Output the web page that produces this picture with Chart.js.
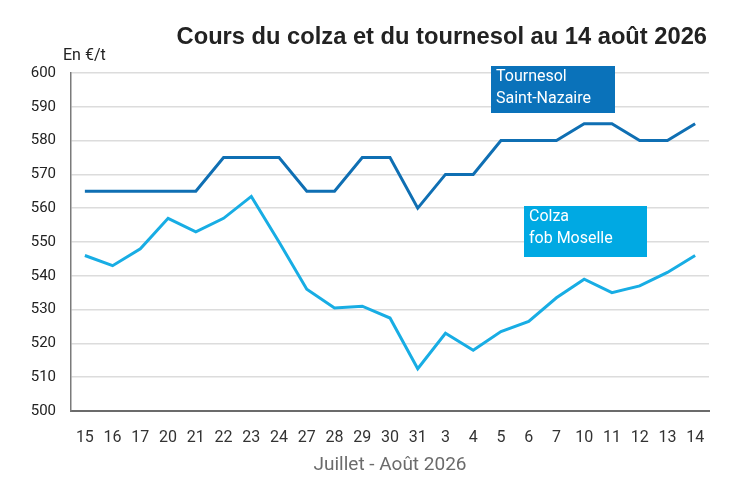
<!DOCTYPE html>
<html>
<head>
<meta charset="utf-8">
<script src="https://cdn.jsdelivr.net/npm/chart.js@4"></script>
<style>
  html, body { margin: 0; padding: 0; background: #fff; }
  #wrap { position: relative; width: 747px; height: 495px; }
</style>
</head>
<body>
<div id="wrap"><canvas id="chart" width="747" height="495"></canvas></div>
<script>
// Dates de cotation (juillet puis août)
const dates = ['15', '16', '17', '20', '21', '22', '23', '24', '27', '28', '29', '30', '31',
  '3', '4', '5', '6', '7', '10', '11', '12', '13', '14'];

// Tournesol Saint-Nazaire, en €/t
const tournesol = [565, 565, 565, 565, 565, 575, 575, 575, 565, 565, 575, 575, 560,
  570, 570, 580, 580, 580, 585, 585, 580, 580, 585];

// Colza fob Moselle, en €/t
const colza = [546, 543, 548, 557, 553, 557, 563.5, 550, 536, 530.5, 531, 527.5, 512.5,
  523, 518, 523.5, 526.5, 533.5, 539, 535, 537, 541, 546];

const yMin = 500;
const yMax = 600;
const yStep = 10;

const chartTitle = 'Cours du colza et du tournesol au 14 août 2026';
const unitLabel = 'En €/t';
const xTitle = 'Juillet - Août 2026';

// Etiquettes des séries (boîtes colorées)
const labels = [
  { lines: ['Tournesol', 'Saint-Nazaire'], color: '#0a72ba', x: 491, y: 66, w: 124, h: 47 },
  { lines: ['Colza', 'fob Moselle'], color: '#00a9e3', x: 524, y: 206, w: 123, h: 51 }
];

const annotations = {
  id: 'annotations',
  afterDraw(chart) {
    const ctx = chart.ctx;
    ctx.save();
    // titre
    ctx.fillStyle = '#222';
    ctx.font = 'bold 23.7px "Liberation Sans", Arial, sans-serif';
    ctx.textAlign = 'right';
    ctx.textBaseline = 'alphabetic';
    ctx.fillText(chartTitle, 707, 44);
    // unité
    ctx.font = '16px Roboto, sans-serif';
    ctx.textAlign = 'left';
    ctx.fillStyle = '#222';
    ctx.fillText(unitLabel, 63, 60);
    // boîtes
    labels.forEach(l => {
      ctx.fillStyle = l.color;
      ctx.fillRect(l.x, l.y, l.w, l.h);
      ctx.fillStyle = '#fff';
      ctx.font = '16px Roboto, sans-serif';
      ctx.textBaseline = 'middle';
      l.lines.forEach((t, i) => {
        ctx.fillText(t, l.x + 5, l.y + 11 + i * 22);
      });
    });
    ctx.restore();
  }
};

new Chart(document.getElementById('chart'), {
  type: 'line',
  data: {
    labels: dates,
    datasets: [
      {
        label: 'Tournesol Saint-Nazaire',
        data: tournesol,
        borderColor: '#0f6fb3',
        borderWidth: 3,
        pointRadius: 0,
        tension: 0
      },
      {
        label: 'Colza fob Moselle',
        data: colza,
        borderColor: '#18ade4',
        borderWidth: 3,
        pointRadius: 0,
        tension: 0
      }
    ]
  },
  options: {
    responsive: false,
    animation: false,
    layout: { padding: { top: 73, right: 38, left: 0, bottom: 0 } },
    plugins: {
      legend: { display: false },
      tooltip: { enabled: false }
    },
    scales: {
      x: {
        offset: true,
        grid: { display: false },
        border: { display: true, color: '#6b6b6b', width: 2 },
        ticks: {
          autoSkip: false,
          maxRotation: 0,
          padding: 9,
          color: '#333',
          font: { family: 'Roboto, sans-serif', size: 16 }
        },
        title: {
          display: true,
          text: xTitle,
          color: '#6b6b6b',
          font: { family: 'Roboto, sans-serif', size: 19 },
          padding: { top: 0, bottom: 18 }
        },
        afterFit(scale) { scale.height = 84; }
      },
      y: {
        min: yMin,
        max: yMax,
        ticks: {
          stepSize: yStep,
          padding: 15,
          color: '#222',
          font: { family: 'Roboto, sans-serif', size: 15 }
        },
        grid: { color: '#dcdcdc', lineWidth: 1.5, drawTicks: false },
        border: { display: true, color: '#7a7a7a', width: 1.5 },
        afterFit(scale) { scale.width = 71; }
      }
    }
  },
  plugins: [annotations]
});
</script>
</body>
</html>
